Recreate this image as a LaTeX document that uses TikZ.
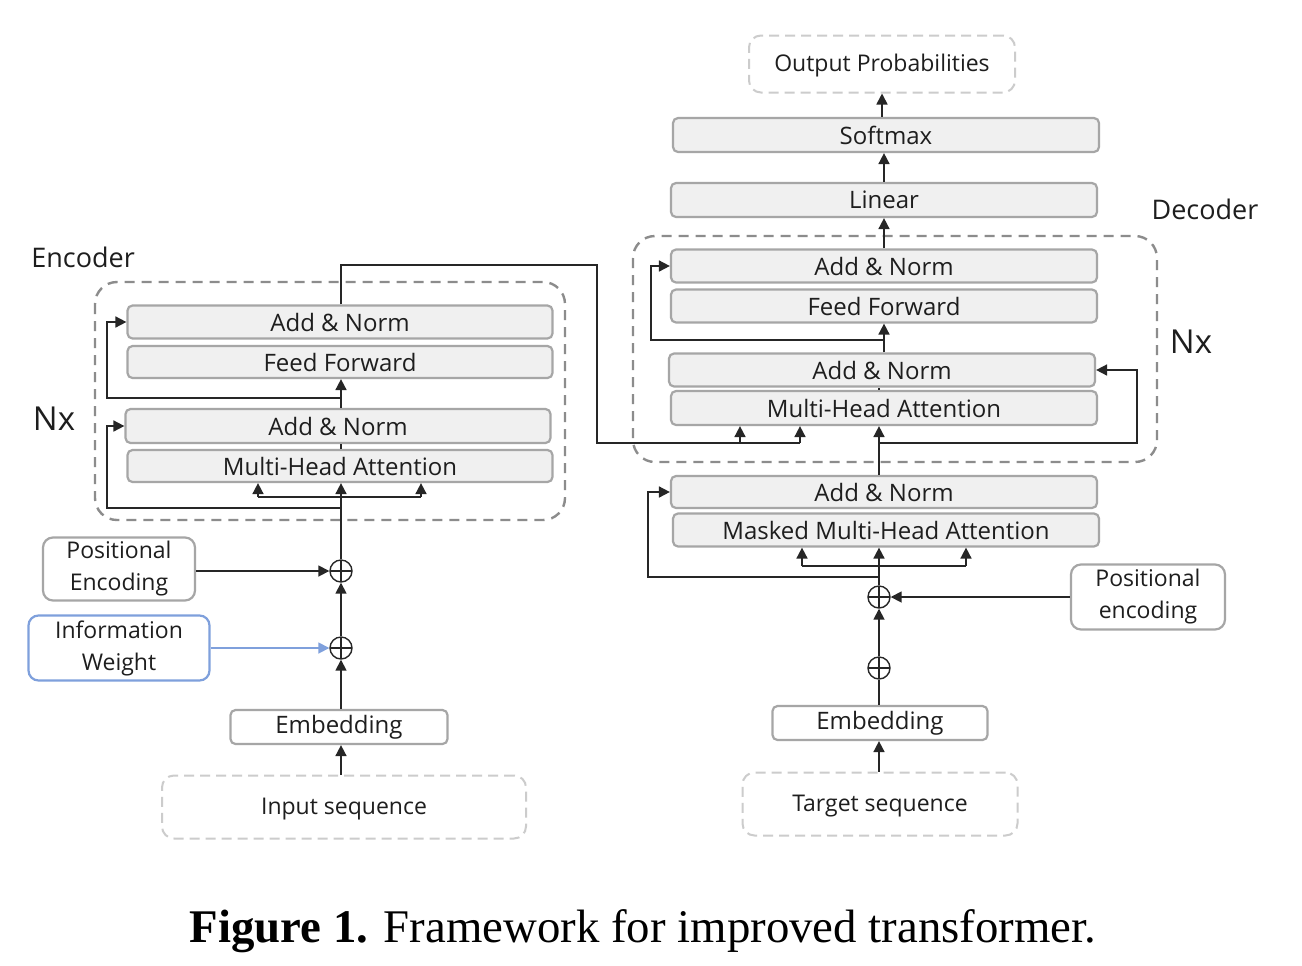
\documentclass[tikz,border=0pt]{standalone}
\usepackage{fontspec}
\setmainfont{Liberation Serif}
\newfontfamily\boxfont{Open Sans}
\usetikzlibrary{arrows.meta,calc}
\definecolor{boxgray}{HTML}{A6A6A6}
\definecolor{boxfill}{HTML}{F0F0F0}
\definecolor{dashgray}{HTML}{8C8C8C}
\definecolor{lightdash}{HTML}{CCCCCC}
\definecolor{txt}{HTML}{1E1E1E}
\definecolor{iwblue}{HTML}{7FA0DC}
\definecolor{linec}{HTML}{262626}
\tikzset{
  blk/.style={draw=boxgray, line width=1.1pt, fill=boxfill, rounded corners=2.5pt,
    minimum width=212.5pt, minimum height=16.5pt, inner sep=0pt, text=txt,
    font=\boxfont\fontsize{12pt}{14pt}\selectfont},
  wblk/.style={draw=boxgray, line width=1.1pt, fill=white, rounded corners=2.5pt,
    inner sep=0pt, text=txt, font=\boxfont\fontsize{12pt}{14pt}\selectfont},
  sidebox/.style={draw=boxgray, line width=1.1pt, fill=white, rounded corners=5pt,
    inner sep=0pt, text=txt, align=center,
    font=\boxfont\fontsize{11.5pt}{16pt}\selectfont},
  seqbox/.style={draw=lightdash, line width=1pt, dash pattern=on 5pt off 3pt, rounded corners=6pt,
    inner sep=0pt, text=txt, font=\boxfont\fontsize{11.5pt}{14pt}\selectfont},
  cont/.style={draw=dashgray, line width=1.2pt, dash pattern=on 5pt off 3.5pt, rounded corners=11pt},
  conn/.style={draw=linec, line width=0.85pt},
  arr/.style={conn, -{Triangle[length=5.5pt,width=5.5pt]}},
  oplus/.style={circle, draw=linec, line width=0.7pt, minimum size=11pt, inner sep=0pt,
    path picture={\draw[linec, line width=0.7pt]
      (path picture bounding box.north) -- (path picture bounding box.south)
      (path picture bounding box.west) -- (path picture bounding box.east);}},
  lbl/.style={text=txt, font=\boxfont\fontsize{13.5pt}{16pt}\selectfont, inner sep=0pt},
  nxl/.style={text=txt, font=\boxfont\fontsize{16.5pt}{18pt}\selectfont, inner sep=0pt}
}
\begin{document}
\begin{tikzpicture}[x=0.5pt,y=-0.5pt]
\useasboundingbox (0,0) rectangle (1302,965);
\fill[white] (0,0) rectangle (1302,965);

% ---------------- Encoder ----------------
\node[lbl, anchor=west] (encl) at (31,257) {Encoder};
\node[nxl] (enx) at (54,419) {Nx};
\draw[cont] (95,282) rectangle (565,520);

\node[blk] (eAN2) at (340,322) {Add \& Norm};
\node[blk, minimum height=16pt] (eFF) at (340,362) {Feed Forward};
\node[blk, minimum height=17pt] (eAN1) at (338,426) {Add \& Norm};
\node[blk, minimum height=16pt] (eMHA) at (340,466) {Multi-Head Attention};

\node[oplus] (eP2) at (341,571) {};
\node[oplus] (eP1) at (341,648) {};
\node[sidebox, minimum width=76pt, minimum height=31.5pt] (ePE) at (119,569) {Positional\\Encoding};
\node[sidebox, draw=iwblue, minimum width=90.5pt, minimum height=32.5pt] (eIW) at (119,648) {Information\\Weight};
\node[wblk, minimum width=108.5pt, minimum height=17pt] (eEmb) at (339,727) {Embedding};
\node[seqbox, minimum width=182pt, minimum height=31.5pt, text depth=1pt] (eIn) at (344,807) {Input sequence};

\coordinate (eR1) at (107,508);
\coordinate (eR2) at (107,398);
\coordinate (eKl) at (258,497);
\coordinate (eKr) at (421,497);

\draw[arr] (eIn.north -| eP1) -- (eEmb.south -| eP1);
\draw[arr] (eEmb.north -| eP1) -- (eP1.south);
\draw[arr] (eP1.north) -- (eP2.south);
\draw[arr, draw=iwblue] (eIW.east |- eP1) -- (eP1.west);
\draw[arr] (ePE.east |- eP2) -- (eP2.west);
\draw[arr] (eP2.north) -- (eMHA.south -| eP2);
\draw[arr] (eP2 |- eR1) -- (eR1) |- (eAN1.west);
\draw[conn] (eKl) -- (eKr);
\draw[arr] (eKl) -- (eKl |- eMHA.south);
\draw[arr] (eKr) -- (eKr |- eMHA.south);
\draw[conn] (eMHA.north -| eP2) -- (eAN1.south -| eP2);
\draw[arr] (eAN1.north -| eP2) -- (eFF.south -| eP2);
\draw[arr] (eP2 |- eR2) -- (eR2) |- (eAN2.west);

% ---------------- Decoder ----------------
\node[lbl] (decl) at (1205,209) {Decoder};
\node[nxl] (dnx) at (1191,342) {Nx};
\draw[cont] (633,236) rectangle (1157,462);

\node[seqbox, minimum width=133pt, minimum height=28.5pt, text depth=1pt] (dOut) at (882,64) {Output Probabilities};
\node[blk, minimum width=213pt, minimum height=17pt] (dSm) at (886,135) {Softmax};
\node[blk, minimum width=213pt, minimum height=17pt] (dLin) at (884,200) {Linear};
\node[blk, minimum width=213pt] (dAN3) at (884,266) {Add \& Norm};
\node[blk, minimum width=213pt] (dFF) at (884,306) {Feed Forward};
\node[blk, minimum width=213pt] (dAN2) at (882,370) {Add \& Norm};
\node[blk, minimum width=213pt, minimum height=17pt] (dMHA) at (884,408) {Multi-Head Attention};
\node[blk, minimum width=213pt, minimum height=16pt] (dAN1) at (884,492) {Add \& Norm};
\node[blk, minimum width=213pt] (dMMHA) at (886,530) {Masked Multi-Head Attention};

\node[oplus] (dP2) at (879,597) {};
\node[oplus] (dP1) at (879,668) {};
\node[sidebox, minimum width=77pt, minimum height=32.5pt] (dPE) at (1148,597) {Positional\\encoding};
\node[wblk, minimum width=107.5pt, minimum height=17pt] (dEmb) at (880,723) {Embedding};
\node[seqbox, minimum width=137.5pt, minimum height=31.5pt, text depth=1pt] (dIn) at (880,804) {Target sequence};

\coordinate (dR1) at (648,577);
\coordinate (dKl) at (802,566);
\coordinate (dKr) at (966,566);
\coordinate (dR2) at (1137,443);
\coordinate (dR3) at (651,340);
\coordinate (xR) at (597,265);
\coordinate (xB) at (597,443);
\coordinate (dK1) at (740,443);
\coordinate (dK2) at (800,443);

\draw[arr] (dIn.north -| dP1) -- (dEmb.south -| dP1);
\draw[conn] (dEmb.north -| dP1) -- (dP1.south);
\draw[arr] (dP1.north) -- (dP2.south);
\draw[arr] (dPE.west) -- (dP2.east);
\draw[arr] (dP2.north) -- (dMMHA.south -| dP2);
\draw[arr] (dP2 |- dR1) -- (dR1) |- (dAN1.west);
\draw[conn] (dKl) -- (dKr);
\draw[arr] (dKl) -- (dKl |- dMMHA.south);
\draw[arr] (dKr) -- (dKr |- dMMHA.south);
\draw[arr] (dAN1.north -| dP2) -- (dMHA.south -| dP2);
\draw[arr] (dP2 |- dR2) -- (dR2) |- (dAN2.east);
\draw[conn] (dMHA.north -| dP2) -- (dAN2.south -| dP2);
\draw[arr] (dAN2.north -| dLin) -- (dFF.south -| dLin);
\draw[arr] (dLin |- dR3) -- (dR3) |- (dAN3.west);
\draw[arr] (dAN3.north -| dLin.south) -- (dLin.south);
\draw[arr] (dLin.north) -- (dSm.south -| dLin);
\draw[arr] (dSm.north -| dOut) -- (dOut.south);

% cross connection encoder -> decoder
\draw[conn] (eAN2.north -| eP2) |- (xR) -- (xB) -- (dK2);
\draw[arr] (dK1) -- (dK1 |- dMHA.south);
\draw[arr] (dK2) -- (dK2 |- dMHA.south);

% ---------------- Caption ----------------
\node[inner sep=0pt, font=\fontsize{23.4pt}{27pt}\selectfont] (cap) at (643,931) {\textbf{Figure 1.} Framework for improved transformer.};
\end{tikzpicture}
\end{document}
